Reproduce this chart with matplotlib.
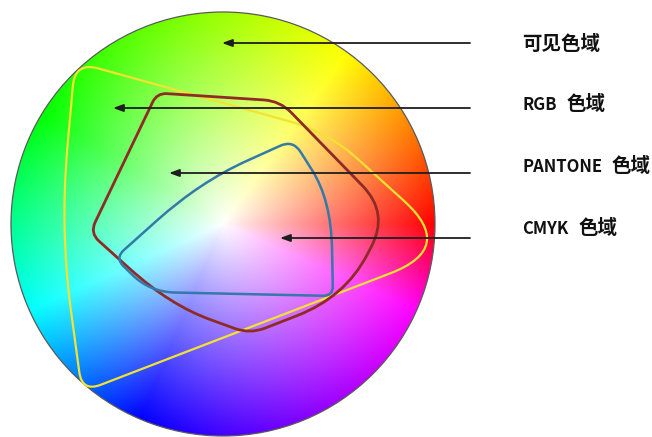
import numpy as np
import matplotlib.pyplot as plt
from matplotlib.colors import hsv_to_rgb
from matplotlib.patches import Circle, PathPatch
from matplotlib.path import Path

# colour wheel (pixel coords, y down)
WHEEL_CENTER = (223, 224)
WHEEL_RADIUS = 212
# angle on the wheel (deg, ccw from +x) -> hue (deg)
WHEEL_ANGLE = [0, 54, 148, 204, 247, 336, 360]
WHEEL_HUE = [0, 60, 120, 180, 240, 300, 360]

# gamut outlines: control points and corner radius (None = smooth)
RGB_PTS = [(75, 62), (328, 132), (456, 248), (82, 392), (60, 230)]
RGB_RAD = [24, 40, 70, 20, None]
PANTONE_PTS = [(157, 93), (280, 101), (389, 213), (345, 297), (250, 334), (170, 305), (90, 233)]
PANTONE_RAD = [10, 16, 38, None, 16, None, 12]
CMYK_PTS = [(293, 140), (331, 200), (333, 296), (150, 292), (115, 258), (200, 182)]
CMYK_RAD = [14, None, 10, 25, 12, None]

# labels (latin part + chinese part) and arrows
LABEL_LATIN = ["", "RGB", "PANTONE", "CMYK"]
LABEL_CJK = ["可见色域", "色域", "色域", "色域"]
LABEL_Y = [44, 105, 167, 229]
ARROW_Y = [43, 108, 173, 238]
ARROW_TIP_X = [222, 113, 169, 280]
ARROW_START_X = 470
LABEL_X = 522


def rounded_path(pts, radii):
    """Closed path: straight sides, quadratic-bezier rounded corners."""
    pts = [np.array(p, float) for p in pts]
    n = len(pts)
    verts, codes = [], []
    for i in range(n):
        v, prev, nxt = pts[i], pts[i - 1], pts[(i + 1) % n]
        d_in, d_out = prev - v, nxt - v
        l_in, l_out = np.hypot(*d_in), np.hypot(*d_out)
        r = radii[i]
        r_in = l_in / 2 if r is None else min(r, l_in / 2)
        r_out = l_out / 2 if r is None else min(r, l_out / 2)
        p_in = v + d_in / l_in * r_in
        p_out = v + d_out / l_out * r_out
        verts += [p_in, v, p_out]
        codes += [Path.MOVETO if i == 0 else Path.LINETO, Path.CURVE3, Path.CURVE3]
    verts.append(verts[0])
    codes.append(Path.LINETO)
    return Path(verts, codes)


fig = plt.figure(figsize=(6.52, 4.37), dpi=100)
ax = fig.add_axes([0, 0, 1, 1])
ax.set_xlim(0, 652)
ax.set_ylim(437, 0)
ax.axis("off")

# wheel image
cx, cy = WHEEL_CENTER
R = WHEEL_RADIUS
xs = np.linspace(cx - R, cx + R, 600)
ys = np.linspace(cy - R, cy + R, 600)
X, Y = np.meshgrid(xs, ys)
ang = np.degrees(np.arctan2(-(Y - cy), X - cx)) % 360
rr = np.clip(np.hypot(X - cx, Y - cy) / R, 0, 1)
hue = np.interp(ang, WHEEL_ANGLE, WHEEL_HUE) / 360 % 1.0
sat = rr ** 0.9
hsv = np.dstack([hue, sat, np.ones_like(hue)])
rgb = hsv_to_rgb(hsv)
im = ax.imshow(rgb, extent=(cx - R, cx + R, cy + R, cy - R), interpolation="bilinear", zorder=1)
rim = Circle((cx, cy), R, facecolor="none", edgecolor="#5a5a5a", lw=0.9, zorder=2)
ax.add_patch(rim)
im.set_clip_path(rim)

for pts, rad, col, lw in [
    (RGB_PTS, RGB_RAD, "#f2e232", 1.6),
    (PANTONE_PTS, PANTONE_RAD, "#8e2b26", 2.0),
    (CMYK_PTS, CMYK_RAD, "#3479a8", 1.8),
]:
    ax.add_patch(PathPatch(rounded_path(pts, rad), facecolor="none", edgecolor=col, lw=lw, zorder=3))

for tip_x, y in zip(ARROW_TIP_X, ARROW_Y):
    ax.annotate("", xy=(tip_x, y), xytext=(ARROW_START_X, y),
                arrowprops=dict(arrowstyle="-|>,head_length=0.6,head_width=0.22",
                                color="#1e1e1e", lw=1.3, shrinkA=0, shrinkB=0,
                                mutation_scale=10), zorder=4)

font = ["Noto Sans CJK SC", "DejaVu Sans"]
for latin, cjk, y in zip(LABEL_LATIN, LABEL_CJK, LABEL_Y):
    if latin:
        t = ax.text(LABEL_X, y, latin, fontsize=12, fontweight="bold", va="center",
                    ha="left", family=font, color="#111111")
        ax.annotate(cjk, xy=(1, 0.5), xycoords=t, xytext=(7, 0), textcoords="offset points",
                    fontsize=14, fontweight="bold", va="center", ha="left",
                    family=font, color="#111111")
    else:
        ax.text(LABEL_X, y, cjk, fontsize=14, fontweight="bold", va="center", ha="left",
                family=font, color="#111111")

fig.savefig("out.png", dpi=100)
